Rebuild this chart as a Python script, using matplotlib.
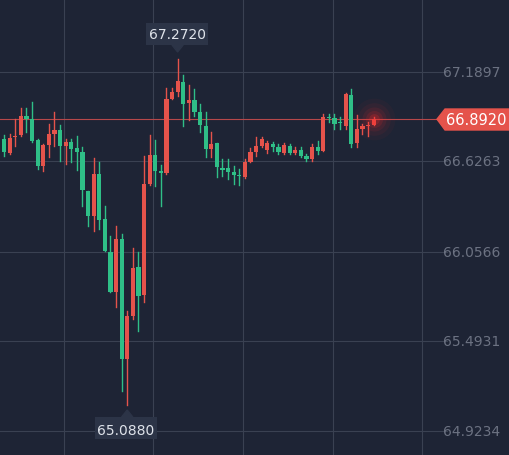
import matplotlib
matplotlib.use("Agg")
import matplotlib.pyplot as plt
from matplotlib.patches import Rectangle, Polygon

opens = [66.767,66.679,66.780,66.792,66.912,66.893,66.761,66.596,66.729,66.798,66.824,66.723,66.748,66.710,66.685,66.439,66.281,66.546,66.262,66.053,65.801,66.136,65.378,65.650,65.959,65.782,66.483,66.666,66.565,66.552,67.019,67.063,67.127,66.994,67.013,66.937,66.849,66.704,66.742,66.584,66.584,66.559,66.540,66.527,66.622,66.685,66.723,66.697,66.735,66.716,66.679,66.723,66.679,66.697,66.660,66.641,66.716,66.691,66.906,66.899,66.874,66.849,67.045,66.742,66.830,66.852,66.855]
closes = [66.685,66.773,66.786,66.912,66.893,66.754,66.596,66.729,66.798,66.824,66.723,66.748,66.704,66.685,66.445,66.281,66.546,66.256,66.060,65.801,66.136,65.378,65.650,65.952,65.776,66.483,66.666,66.565,66.552,67.019,67.063,67.133,66.988,67.013,66.937,66.855,66.704,66.735,66.590,66.571,66.559,66.540,66.533,66.622,66.685,66.723,66.767,66.742,66.716,66.685,66.729,66.679,66.697,66.660,66.641,66.716,66.691,66.906,66.899,66.861,66.868,67.051,66.735,66.830,66.849,66.855,66.892]
highs = [66.792,66.798,66.893,66.962,66.962,67.000,66.767,66.735,66.861,66.937,66.855,66.767,66.767,66.786,66.716,66.439,66.647,66.622,66.344,66.155,66.218,66.167,65.681,66.079,66.053,66.660,66.792,66.761,66.603,67.089,67.089,67.272,67.171,67.108,67.082,66.988,66.937,66.811,66.742,66.641,66.641,66.596,66.577,66.641,66.710,66.780,66.780,66.754,66.748,66.735,66.742,66.735,66.716,66.716,66.672,66.735,66.754,66.925,66.925,66.925,66.906,67.057,67.082,66.918,66.861,66.874,66.906]
lows = [66.660,66.672,66.723,66.786,66.811,66.748,66.577,66.564,66.653,66.723,66.628,66.609,66.622,66.571,66.344,66.218,66.186,66.199,66.060,65.801,65.706,65.176,65.088,65.631,65.555,65.738,66.476,66.470,66.344,66.546,67.019,67.038,66.849,66.887,66.912,66.811,66.653,66.653,66.527,66.533,66.514,66.483,66.476,66.521,66.622,66.660,66.716,66.679,66.691,66.672,66.672,66.672,66.672,66.653,66.628,66.628,66.672,66.691,66.874,66.830,66.830,66.830,66.716,66.716,66.798,66.786,66.855]
ytick_vals = [67.1897, 66.6263, 66.0566, 65.4931, 64.9234]
ytick_labels = ["67.1897", "66.6263", "66.0566", "65.4931", "64.9234"]
last_price = 66.8920
max_label, min_label = "67.2720", "65.0880"

BG = "#1e2435"; RED = "#e5534b"; GREEN = "#2fbf87"; GRID = "#3a4152"; TXT = "#6c7282"
W, H = 509, 456
fig = plt.figure(figsize=(W/100, H/100), dpi=100, facecolor=BG)
ax = fig.add_axes([0, 0, 1, 1], facecolor=BG)
px = 5.6
ax.set_xlim(-4/px, (W-4)/px)
ax.set_ylim(64.772, 67.6506)
ax.axis("off")

def py(pix):
    return 67.6506 - pix * 0.006313
def pxv(pix):
    return (pix - 4) / px

gx_end = pxv(447)
for v in ytick_vals:
    ax.plot([-1, gx_end], [v, v], color=GRID, lw=0.8, zorder=0)
for xp in [64, 153, 243, 333, 422]:
    ax.axvline(pxv(xp), color=GRID, lw=0.8, zorder=0)
for v, l in zip(ytick_vals, ytick_labels):
    ax.text(pxv(500), v, l, color=TXT, fontsize=10, ha="right", va="center")

bw = 0.75
for i, (o, c, h, l) in enumerate(zip(opens, closes, highs, lows)):
    col = RED if c >= o else GREEN
    ax.plot([i, i], [l, h], color=col, lw=1, zorder=2)
    lo, hi = min(o, c), max(o, c)
    ax.add_patch(Rectangle((i - bw/2, lo), bw, max(hi - lo, 0.006), color=col, zorder=3, lw=0))

n = len(closes) - 1
ax.axhline(last_price, xmax=(437/W), color="#b6484a", lw=0.8, zorder=1)
for s, a in [(900, 0.04), (550, 0.06), (300, 0.09), (150, 0.13), (60, 0.2)]:
    ax.scatter([n], [last_price], s=s, color="#ff2a2a", alpha=a, lw=0, zorder=4)

tag = Polygon([(pxv(437), last_price), (pxv(445), py(110)), (pxv(509), py(110)),
               (pxv(509), py(131)), (pxv(445), py(131))], closed=True, color=RED, zorder=5)
ax.add_patch(tag)
ax.text(pxv(476), last_price, "66.8920", color="white", fontsize=10.5, ha="center", va="center", zorder=6)

BOX = "#2c3447"
imax = highs.index(max(highs)); imin = lows.index(min(lows))
ax.add_patch(Rectangle((pxv(146), py(46)), pxv(208)-pxv(146), py(24)-py(46), color=BOX, zorder=5, lw=0))
ax.add_patch(Polygon([(imax-1, py(46)), (imax+1, py(46)), (imax, py(53))], color=BOX, zorder=5))
ax.text(pxv(177), py(35), max_label, color="#dfe3ea", fontsize=10, ha="center", va="center", zorder=6)
ax.add_patch(Rectangle((pxv(95), py(440)), pxv(157)-pxv(95), py(418)-py(440), color=BOX, zorder=5, lw=0))
ax.add_patch(Polygon([(imin-1, py(418)), (imin+1, py(418)), (imin, py(411))], color=BOX, zorder=5))
ax.text(pxv(126), py(431), min_label, color="#dfe3ea", fontsize=10, ha="center", va="center", zorder=6)

fig.savefig("out.png", dpi=100, facecolor=BG)
